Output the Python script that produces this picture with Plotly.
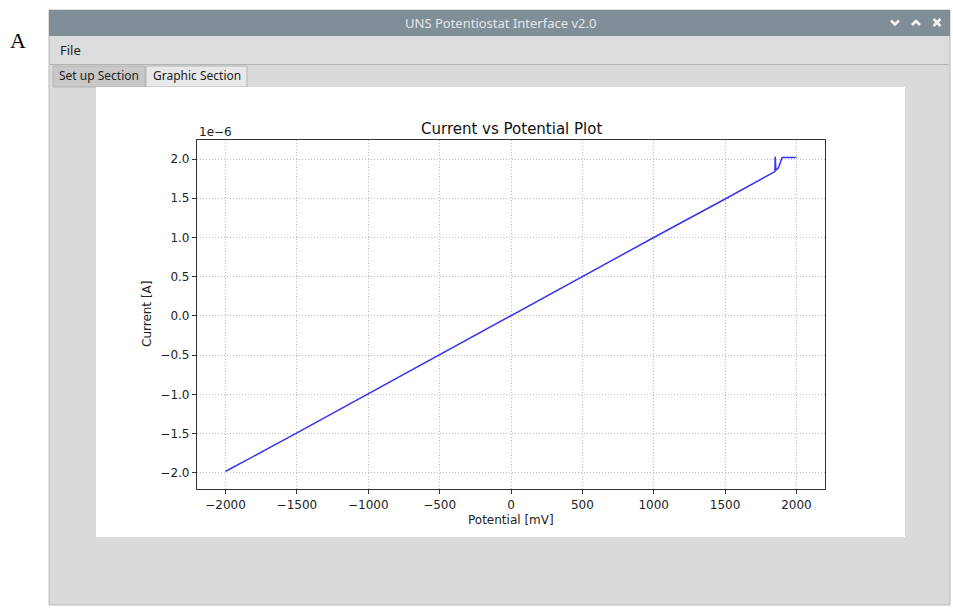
import plotly.graph_objects as go

# Measured sweep: potential [mV] and current [A]
potential_mv = [-2000, -1995, -1500, -1000, -500, 0, 500, 1000, 1500, 1849,
                1851, 1853, 1856, 1866, 1876, 1900, 1950, 2000]
current_a = [-1.98e-6, -1.975e-6, -1.49e-6, -0.99e-6, -0.495e-6, 0.0, 0.50e-6, 1.0e-6,
             1.49e-6, 1.84e-6, 2.03e-6, 1.95e-6, 1.86e-6, 1.87e-6, 1.90e-6,
             2.02e-6, 2.02e-6, 2.02e-6]

x_ticks = [-2000, -1500, -1000, -500, 0, 500, 1000, 1500, 2000]
x_tick_text = ["\u22122000", "\u22121500", "\u22121000", "\u2212500", "0",
               "500", "1000", "1500", "2000"]
y_ticks = [-2.0e-6, -1.5e-6, -1.0e-6, -0.5e-6, 0.0, 0.5e-6, 1.0e-6, 1.5e-6, 2.0e-6]
y_tick_text = ["\u22122.0", "\u22121.5", "\u22121.0", "\u22120.5", "0.0",
               "0.5", "1.0", "1.5", "2.0"]

W, H = 953, 609
L, R, T, B = 197, 825, 140, 489  # plot area in page pixels
PW, PH = R - L, B - T


def fx(px):
    return (px - L) / PW


def fy(py):
    return (B - py) / PH


def rect(x0, y0, x1, y1, fill, line=None, lw=0):
    return dict(type="rect", xref="paper", yref="paper",
                x0=fx(x0), x1=fx(x1), y0=fy(y1), y1=fy(y0),
                fillcolor=fill, line=dict(color=line or fill, width=lw),
                layer="below")


def path(d_pts, color, width=2):
    d = "M " + " L ".join(f"{fx(a)},{fy(b)}" for a, b in d_pts)
    return dict(type="path", xref="paper", yref="paper", path=d,
                line=dict(color=color, width=width), layer="above")


def label(px, py, text, size=12, color="#222222", family="DejaVu Sans",
          xanchor="center", yanchor="middle", angle=0):
    return dict(x=fx(px), y=fy(py), xref="paper", yref="paper", text=text,
                showarrow=False, xanchor=xanchor, yanchor=yanchor, textangle=angle,
                font=dict(size=size, color=color, family=family))


shapes = [
    # application window
    rect(49, 10, 950, 605, "#dadada", "#b9b9b9", 1),
    rect(49, 10, 950, 36, "#808e97"),
    rect(50, 36, 949, 64, "#dcdcdc"),
    dict(type="line", xref="paper", yref="paper", x0=fx(50), x1=fx(949),
         y0=fy(64.5), y1=fy(64.5), line=dict(color="#b4b4b4", width=1), layer="below"),
    rect(50, 65, 949, 87, "#dadada"),
    rect(53, 66, 145, 87, "#c8c8c8", "#b4b4b4", 1),
    rect(146, 66, 247, 87, "#e8e8e8", "#b4b4b4", 1),
    # figure canvas
    rect(96, 87, 905, 537, "#ffffff"),
    # window buttons
    path([(891, 20.5), (895, 24.5), (899, 20.5)], "#f4f4f4", 2.5),
    path([(912, 25), (916, 21), (920, 25)], "#f4f4f4", 2.5),
    path([(933.5, 19), (940.5, 26)], "#f4f4f4", 2.5),
    path([(940.5, 19), (933.5, 26)], "#f4f4f4", 2.5),
]

annotations = [
    label(18, 41, "A", size=22, color="#000000", family="Liberation Serif"),
    label(500, 23, "UNS Potentiostat Interface v2.0", size=13, color="#e2e6e9",
          family="Noto Sans"),
    label(58, 50, "File", size=13, color="#222222", family="Noto Sans", xanchor="left"),
    label(99, 76, "Set up Section", size=12, color="#222222", family="Noto Sans"),
    label(196.5, 76, "Graphic Section", size=12, color="#222222", family="Noto Sans"),
    label(511, 129, "Current vs Potential Plot", size=15, color="#111111"),
    label(197, 132, "1e\u22126", size=12, color="#222222", xanchor="left"),
    label(511, 520, "Potential [mV]", size=12, color="#222222"),
    label(147, 314, "Current [A]", size=12, color="#222222", angle=-90),
]

fig = go.Figure(
    go.Scatter(x=potential_mv, y=current_a, mode="lines",
               line=dict(color="#3535f2", width=1.5), hoverinfo="skip")
)

axis_common = dict(
    showline=True, mirror=True, linecolor="#333333", linewidth=1.2,
    ticks="outside", ticklen=4, tickcolor="#333333", tickwidth=1,
    showgrid=True, gridcolor="#bdbdbd", gridwidth=0.8, griddash="1px,2px",
    zeroline=False, tickfont=dict(family="DejaVu Sans", size=12, color="#222222"),
)

fig.update_xaxes(range=[-2200, 2200], tickmode="array", tickvals=x_ticks,
                 ticktext=x_tick_text, **axis_common)
fig.update_yaxes(range=[-2.204e-6, 2.242e-6], tickmode="array", tickvals=y_ticks,
                 ticktext=y_tick_text, **axis_common)

fig.update_layout(
    width=W, height=H, autosize=False,
    margin=dict(l=L, r=W - R, t=T, b=H - B, pad=0),
    paper_bgcolor="#ffffff", plot_bgcolor="rgba(0,0,0,0)",
    showlegend=False, shapes=shapes, annotations=annotations,
)

fig.write_html("out.html")
